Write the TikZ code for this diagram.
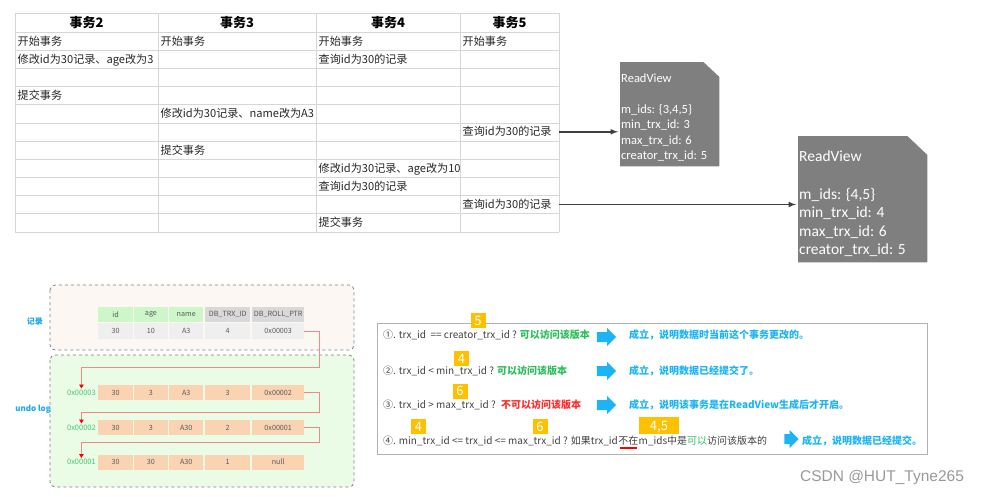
\documentclass[tikz,border=0pt]{standalone}
\usepackage{fontspec}
\setmainfont{Noto Sans CJK SC}
\newfontfamily\rvfont{Carlito}
\newfontfamily\wmfont{Liberation Sans}
\usepackage{xcolor}
\usetikzlibrary{positioning,calc,arrows.meta}
\tikzset{>=latex}

\definecolor{gridgray}{HTML}{D6D6D6}
\definecolor{rvgray}{HTML}{7F7F7F}
\definecolor{recfill}{HTML}{FDF7F4}
\definecolor{undofill}{HTML}{EAFBE6}
\definecolor{hdgreen}{HTML}{CDF7C8}
\definecolor{hdgray}{HTML}{D9D9D9}
\definecolor{recgray}{HTML}{EFEFEF}
\definecolor{undoc}{HTML}{FAD3B3}
\definecolor{linkred}{HTML}{F08A8A}
\definecolor{addrgreen}{HTML}{45C872}
\definecolor{lblblue}{HTML}{1AA7EE}
\definecolor{okgreen}{HTML}{2DBD5A}
\definecolor{nored}{HTML}{FF2B2B}
\definecolor{tipblue}{HTML}{1CB4F5}
\definecolor{badgec}{HTML}{FFC000}

\tikzset{
  grid/.style={draw=gridgray, line width=0.8pt},
  cell/.style={anchor=base west, inner sep=0pt, font=\fontsize{11.1}{13}\selectfont, text=black!85},
  head/.style={anchor=base, inner sep=0pt, font=\fontsize{13}{15}\selectfont\bfseries},
  rvbox/.style={anchor=north west, inner sep=0pt},
  rvtext/.style={anchor=north west, inner sep=0pt, align=left, text=white},
  viewarrow/.style={->, draw=black!75, line width=1.5pt, shorten >=2pt},
  dashbox/.style={draw=black!50, dashed, line width=0.8pt, rounded corners=5pt},
  recc/.style={anchor=west, inner sep=0pt, minimum height=15pt, font=\fontsize{7.2}{8}\selectfont, text=black!65},
  addr/.style={anchor=east, inner sep=1pt, font=\fontsize{7.5}{8}\selectfont, text=addrgreen},
  side/.style={inner sep=0pt, font=\fontsize{8}{9}\selectfont\bfseries, text=lblblue},
  link/.style={draw=linkred, line width=0.9pt, -{Triangle[length=4pt,width=4.5pt,color=red]}},
  cond/.style={anchor=base west, inner sep=0pt, font=\fontsize{10}{11}\selectfont, text=black!75},
  tip/.style={cond, text=tipblue, font=\fontsize{10}{11}\selectfont\bfseries},
  arrowbox/.style={inner sep=0pt, minimum width=19pt, minimum height=18pt},
  badge/.style={fill=badgec, text=white, inner sep=0pt, minimum width=15pt, minimum height=15pt,
    text height=9pt, text depth=0pt, font=\fontsize{13}{14}\selectfont}
}

\begin{document}
\begin{tikzpicture}[x=1pt, y=-1pt]
\useasboundingbox (0,0) rectangle (982,496);

% transaction table
\foreach \x in {15,158,316,460,559}
  \draw[grid] (\x,13) -- (\x,232);
\draw[grid] (15,13) -- (559,13);
\foreach \r in {0,...,11}
  \draw[grid] (15,{32+18.18*\r}) -- (559,{32+18.18*\r});
\coordinate (tr) at (559,0);

\foreach \x/\w/\t in {15/143/2, 158/158/3, 316/144/4, 460/99/5}
  \node[head] (h\t) at ({\x+\w/2}, 27) {事务\t};

\foreach \x/\r/\t/\n in {15/1/开始事务/s2, 158/1/开始事务/s3, 316/1/开始事务/s4, 460/1/开始事务/s5,
    15/2/修改id为30记录、age改为3/m2, 316/2/查询id为30的记录/q4a,
    15/4/提交事务/c2,
    158/5/修改id为30记录、name改为A3/m3,
    460/6/查询id为30的记录/q5a,
    158/7/提交事务/c3,
    316/8/修改id为30记录、age改为10/m4,
    316/9/查询id为30的记录/q4b,
    460/10/查询id为30的记录/q5b,
    316/11/提交事务/c4}
  \node[cell] (\n) at ({\x+2.5}, {32+18.18*(\r-0.5)+4}) {\t};

% read views
\node[rvbox, minimum width=99pt, minimum height=104pt] (rv1) at (620,62) {};
\fill[rvgray] (rv1.north west) -- ([xshift=-16pt]rv1.north east) -- ([yshift=-15pt]rv1.north east)
  -- (rv1.south east) -- (rv1.south west) -- cycle;
\node[rvtext, font=\rvfont\fontsize{12.5}{15.3}\selectfont] (rv1t) at (621,74)
  {ReadView\\[15.3pt]m\_ids: \{3,4,5\}\\min\_trx\_id: 3\\max\_trx\_id: 6\\creator\_trx\_id: 5};

\node[rvbox, minimum width=129pt, minimum height=126pt] (rv2) at (798,136) {};
\fill[rvgray] (rv2.north west) -- ([xshift=-20pt]rv2.north east) -- ([yshift=-19pt]rv2.north east)
  -- (rv2.south east) -- (rv2.south west) -- cycle;
\node[rvtext, font=\rvfont\fontsize{15.5}{18.6}\selectfont] (rv2t) at (799,151)
  {ReadView\\[18.6pt]m\_ids: \{4,5\}\\min\_trx\_id: 4\\max\_trx\_id: 6\\creator\_trx\_id: 5};

\draw[viewarrow] (q5a.west -| tr) -- (q5a.west -| rv1.west);
\draw[viewarrow] (q5b.west -| tr) -- (q5b.west -| rv2.west);

% record and undo log
\draw[dashbox, fill=recfill] (50,285) rectangle (354,350);
\draw[dashbox, fill=undofill] (50,355) rectangle (354,487);
\node[side] (lrec) at (35,322) {记录};
\node[side] (lundo) at (33,409) {undo log};

\foreach \x/\w/\t/\c [count=\i] in {98/35/id/hdgreen, 133.5/34.5/age/hdgreen, 169/34/name/hdgreen,
    205/45/DB\_TRX\_ID/hdgray, 252/52/DB\_ROLL\_PTR/hdgray}
  \node[recc, fill=\c, minimum width=\w] (rh\i) at (\x,314.5) {\t};
\foreach \x/\w/\t [count=\i] in {98/35/30, 133.5/34.5/10, 169/34/A3, 205/45/4, 252/52/0x00003}
  \node[recc, fill=recgray, minimum width=\w, minimum height=16pt] (rd\i) at (\x,331) {\t};

\foreach \y/\r/\va/\vb/\vc/\vd/\ve/\ad in {392.5/1/30/3/A3/3/0x00002/0x00003,
    427.5/2/30/3/A30/2/0x00001/0x00002, 462/3/30/30/A30/1/null/0x00001} {
  \node[addr] (a\r) at (97,\y) {\ad};
  \foreach \x/\w/\v [count=\i] in {98/35/\va, 133.5/34.5/\vb, 169/34/\vc, 205/45/\vd, 252/52/\ve}
    \node[recc, fill=undoc, minimum width=\w] (u\r-\i) at (\x,\y) {\v};
}

\draw[link] (rd5.east) -- ++(15,0) |- ([yshift=21pt]a1.north) -- (a1.north);
\draw[link] (u1-5.east) -- ++(15,0) |- ([yshift=11pt]a2.north) -- (a2.north);
\draw[link] (u2-5.east) -- ++(15,0) |- ([yshift=16pt]a3.north) -- (a3.north);

% visibility rules
\draw[draw=black!30, line width=0.8pt] (377,323) rectangle (927,454);

\node[cond] (l1) at (383,338.5) {①. trx\_id\ \ == creator\_trx\_id ? \textcolor{okgreen}{\bfseries 可以访问该版本}};
\node[cond] (l2) at (383,374.5) {②. trx\_id < min\_trx\_id ? \textcolor{okgreen}{\bfseries 可以访问该版本}};
\node[cond] (l3) at (383,408.5) {③. trx\_id > max\_trx\_id ? \ \textcolor{nored}{\bfseries 不可以访问该版本}};
\node[cond] (l4a) at (383,444.5) {④. min\_trx\_id <= trx\_id <= max\_trx\_id ? 如果trx\_id};
\node[cond] (l4b) at (l4a.base east) {不在};
\node[cond] (l4c) at (l4b.base east) {m\_ids中是\textcolor{okgreen}{可以}访问该版本的};
\draw[red, line width=1.6pt, shorten <=2pt, shorten >=2pt]
  ([yshift=-2.5pt]l4b.south west) -- ([yshift=-2.5pt]l4b.south east);

\node[arrowbox] (ar1) at (606.5,337) {};
\node[arrowbox] (ar2) at (606.5,371) {};
\node[arrowbox] (ar3) at (606.5,405) {};
\node[arrowbox, minimum width=14pt] (ar4) at (791.5,439) {};
\foreach \a in {ar1,ar2,ar3,ar4}
  \fill[tipblue] ([yshift=5pt]\a.west) -- ([xshift=-9pt,yshift=5pt]\a.east)
    -- ([xshift=-9pt,yshift=9pt]\a.east) -- (\a.east) -- ([xshift=-9pt,yshift=-9pt]\a.east)
    -- ([xshift=-9pt,yshift=-5pt]\a.east) -- ([yshift=-5pt]\a.west) -- cycle;

\node[tip] (t1) at (629,338.5) {成立，说明数据时当前这个事务更改的。};
\node[tip] (t2) at (629,374.5) {成立，说明数据已经提交了。};
\node[tip] (t3) at (629,408.5) {成立，说明该事务是在ReadView生成后才开启。};
\node[tip] (t4) at (802,444.5) {成立，说明数据已经提交。};

\node[badge] (b1) at (478,320.5) {5};
\node[badge] (b2) at (461.5,358.5) {4};
\node[badge] (b3) at (460,391) {6};
\node[badge] (b4) at (418.5,426.5) {4};
\node[badge] (b5) at (540,426.5) {6};
\node[badge, minimum width=40pt, minimum height=17pt] (b6) at (659,425.5) {4,5};

\node[text=black!40, font=\wmfont\fontsize{15.5}{17}\selectfont] (wm) at (882,477) {CSDN @HUT\_Tyne265};
\end{tikzpicture}
\end{document}
